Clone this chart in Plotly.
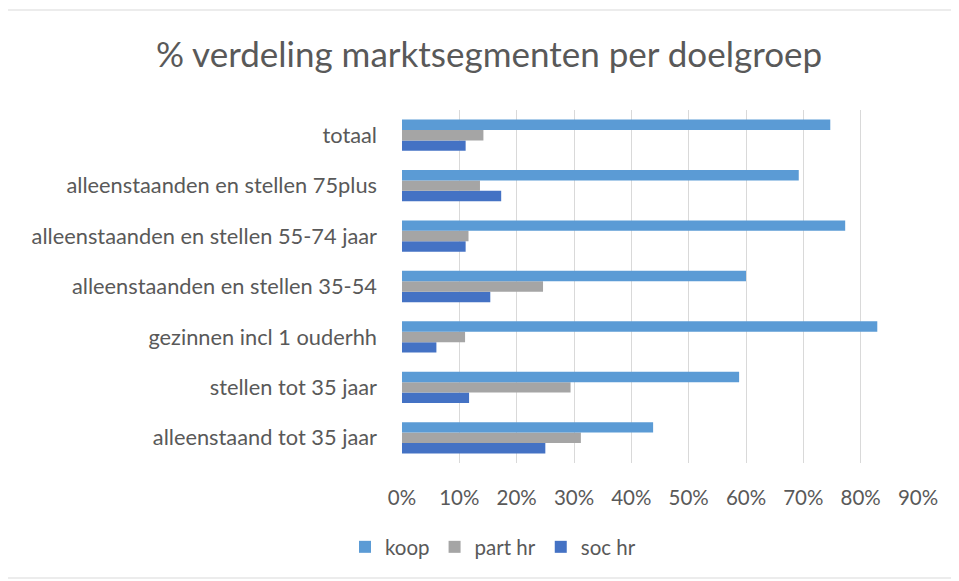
import plotly.graph_objects as go

categories = [
    "alleenstaand tot 35 jaar",
    "stellen tot 35 jaar",
    "gezinnen incl 1 ouderhh",
    "alleenstaanden en stellen 35-54",
    "alleenstaanden en stellen 55-74 jaar",
    "alleenstaanden en stellen 75plus",
    "totaal",
]
koop = [0.438, 0.588, 0.829, 0.600, 0.773, 0.692, 0.747]
part_hr = [0.312, 0.294, 0.110, 0.246, 0.116, 0.136, 0.142]
soc_hr = [0.250, 0.117, 0.060, 0.154, 0.111, 0.173, 0.111]
x_ticks = [0, 0.1, 0.2, 0.3, 0.4, 0.5, 0.6, 0.7, 0.8, 0.9]
x_tick_labels = ["0%", "10%", "20%", "30%", "40%", "50%", "60%", "70%", "80%", "90%"]

FONT = "Lato"
TXT = "#595959"

fig = go.Figure()
fig.add_trace(go.Bar(name="soc hr", y=categories, x=soc_hr, orientation="h",
                     marker=dict(color="#4472C4", line=dict(width=0))))
fig.add_trace(go.Bar(name="part hr", y=categories, x=part_hr, orientation="h",
                     marker=dict(color="#A5A5A5", line=dict(width=0))))
fig.add_trace(go.Bar(name="koop", y=categories, x=koop, orientation="h",
                     marker=dict(color="#5B9BD5", line=dict(width=0))))

# page has an 8px body margin: work in page pixels, subtract offset
OFF = 8
W, H = 959 - OFF, 581 - OFF
px_left, px_right, px_top, px_bottom = 402, 918, 110, 463
L = px_left - OFF
R = W - (px_right - OFF)
T = px_top - OFF
B = H - (px_bottom - OFF)
pw, ph = W - L - R, H - T - B


def xp(page_x):
    return (page_x - px_left) / pw


def yp(page_y):
    return (px_bottom - page_y) / ph


fig.update_layout(
    width=W, height=H,
    margin=dict(l=L, r=R, t=T, b=B, pad=0),
    paper_bgcolor="white", plot_bgcolor="white",
    barmode="group", bargap=0.38, bargroupgap=0,
    font=dict(family=FONT, color=TXT, size=20),
    title=dict(text="% verdeling marktsegmenten per doelgroep",
               x=(489 - OFF) / W, xanchor="center",
               y=1 - (55 - OFF) / H, yanchor="middle",
               font=dict(family=FONT, size=35, color=TXT)),
    xaxis=dict(range=[0, 0.9], tickvals=x_ticks, ticktext=x_tick_labels,
               showgrid=True, gridcolor="#D9D9D9", gridwidth=1,
               zeroline=False, showline=False, ticks="",
               ticklabelstandoff=20, tickfont=dict(size=20.5, color=TXT)),
    yaxis=dict(showgrid=False, zeroline=False, showline=False, ticks="",
               ticklabelstandoff=24, tickfont=dict(size=21.8, color=TXT)),
    legend=dict(orientation="h", traceorder="reversed",
                x=xp(493), xanchor="center",
                y=yp(547), yanchor="middle",
                font=dict(size=20.5, color=TXT), itemwidth=30),
    showlegend=True,
)

fig.add_shape(type="rect", xref="paper", yref="paper",
              x0=xp(4), x1=xp(955), y0=yp(578), y1=yp(10),
              line=dict(color="#D9D9D9", width=1), fillcolor="rgba(0,0,0,0)",
              layer="below")

fig.write_html("out.html")
